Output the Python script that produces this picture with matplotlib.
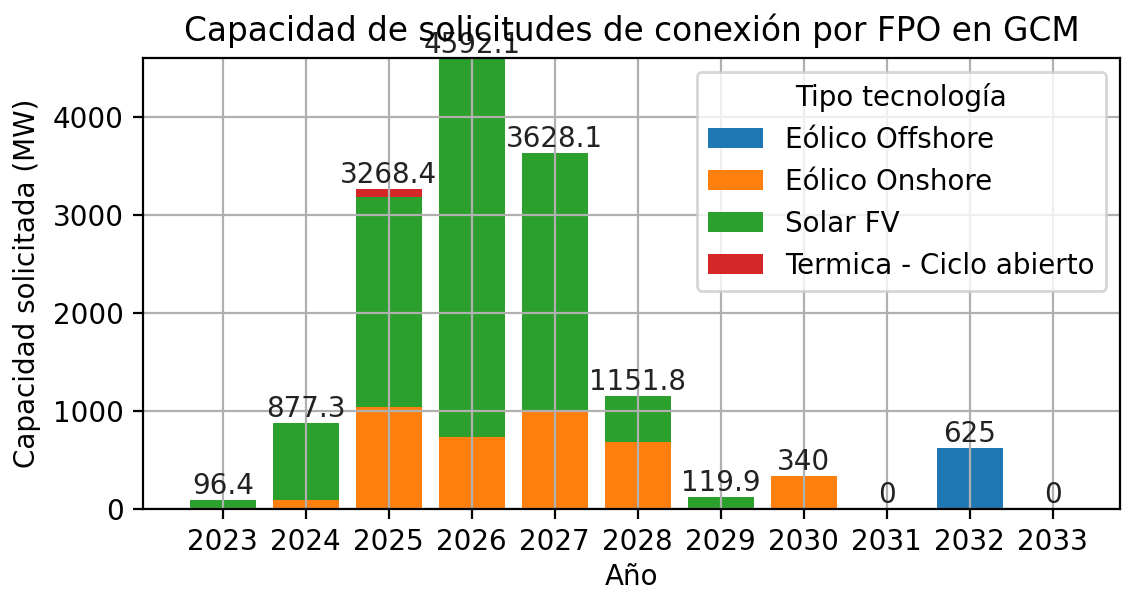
import numpy as np
import matplotlib
matplotlib.use("Agg")
import matplotlib.pyplot as plt

# datos por año (MW)
anios = [2023, 2024, 2025, 2026, 2027, 2028, 2029, 2030, 2031, 2032, 2033]
eolico_offshore = [0, 0, 0, 0, 0, 0, 0, 0, 0, 625, 0]
eolico_onshore = [0, 92, 1043, 737, 1000, 679, 0, 340, 0, 0, 0]
solar_fv = [96.4, 785.3, 2145.4, 3855.1, 2628.1, 472.8, 119.9, 0, 0, 0, 0]
termica = [0, 0, 80, 0, 0, 0, 0, 0, 0, 0, 0]
totales = [96.4, 877.3, 3268.4, 4592.1, 3628.1, 1151.8, 119.9, 340, 0, 625, 0]

series = [
    ("Eólico Offshore", eolico_offshore),
    ("Eólico Onshore", eolico_onshore),
    ("Solar FV", solar_fv),
    ("Termica - Ciclo abierto", termica),
]

fig = plt.figure(figsize=(5.61, 2.95), dpi=200)
ax = fig.add_axes([0.1275, 0.1373, 0.8707, 0.7644])

base = np.zeros(len(anios))
for nombre, valores in series:
    ax.bar(anios, valores, bottom=base, label=nombre, width=0.8)
    base += np.array(valores)

# etiquetas con el total encima de cada barra
for x, t in zip(anios, totales):
    ax.annotate(f"{t:g}", (x, t), xytext=(0, 0), textcoords="offset points",
                ha="center", va="bottom", fontsize=10, color="#222222")

ax.set_title("Capacidad de solicitudes de conexión por FPO en GCM", fontsize=11.8)
ax.set_xlabel("Año", labelpad=2.5)
ax.set_ylabel("Capacidad solicitada (MW)")
ax.set_xticks(anios)
ax.set_xlim(2023 - 0.96, 2033 + 0.81)
ax.set_ylim(0, 4602)
ax.grid(True)
ax.legend(title="Tipo tecnología", loc="upper right")

fig.savefig("out.png", dpi=200)
